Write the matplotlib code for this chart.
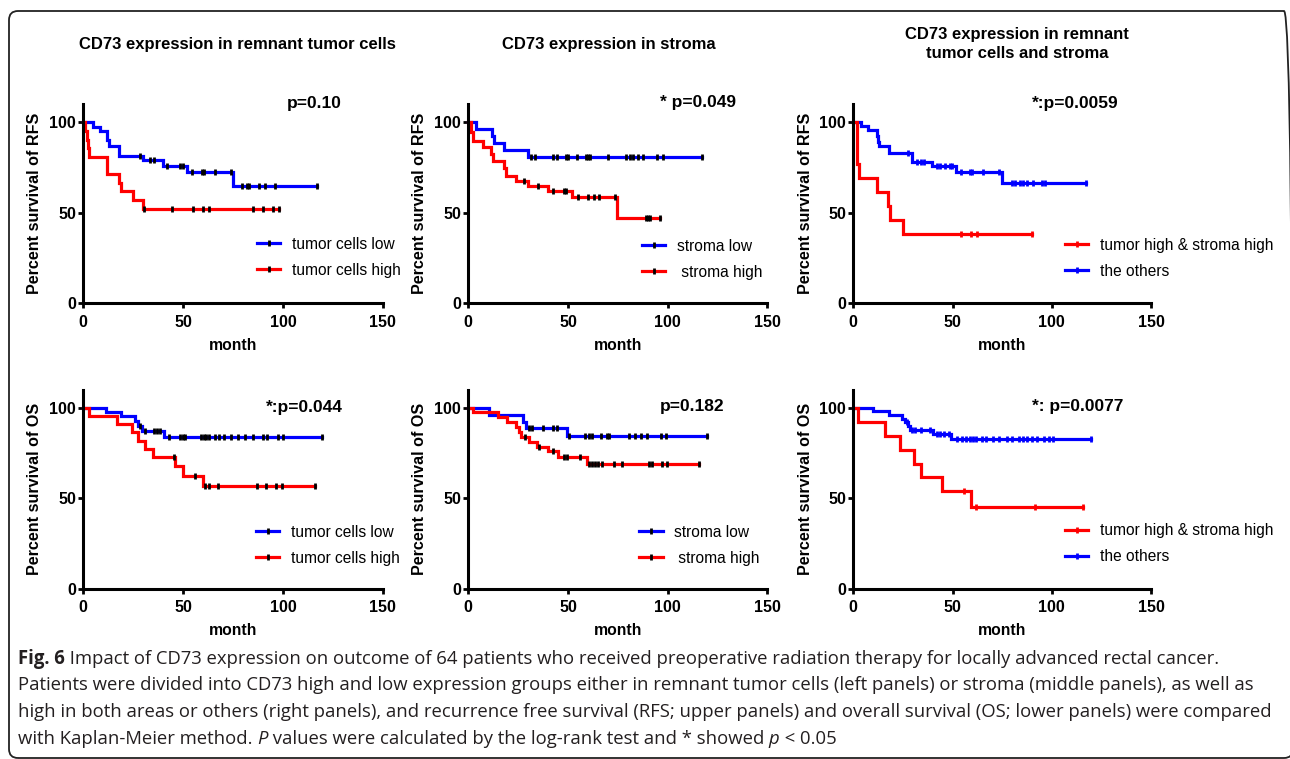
import numpy as np
import matplotlib
matplotlib.use('Agg')
import matplotlib.pyplot as plt
from matplotlib.lines import Line2D
from matplotlib.patches import FancyBboxPatch
from matplotlib.transforms import IdentityTransform

plt.rcParams['font.family'] = ['Liberation Sans', 'DejaVu Sans']

BLUE = '#0000ff'
RED = '#ff0000'

# ---- data (month, percent survival) ----
# RFS, tumor cells
rfs_tc_low_t = [0, 5, 8.5, 12, 12.8, 18, 30, 40, 52, 75]
rfs_tc_low_s = [100, 97.6, 95.2, 90.5, 87.1, 81.6, 79.2, 76.1, 72.7, 64.7]
rfs_tc_low_cens = [28.5, 33.5, 35.5, 42, 48.5, 50, 54.5, 59.5, 60.5, 66, 74, 79.5, 82, 83, 88, 91, 96, 117]
rfs_tc_high_t = [0, 1, 2, 2.5, 3, 12, 18, 19, 25, 30]
rfs_tc_high_s = [100, 95.2, 90.5, 85.7, 81.0, 71.4, 66.7, 61.9, 57.1, 52.4]
rfs_tc_high_cens = [30.5, 44.5, 55, 60, 63, 85, 90, 95, 98]

# RFS, stroma
rfs_st_low_t = [0, 4, 12, 13, 18, 30]
rfs_st_low_s = [100, 96.2, 92.3, 88.5, 84.6, 80.8]
rfs_st_low_cens = [31.5, 33.5, 42.5, 44.5, 49, 50, 54.5, 59, 60, 61, 70, 79, 81, 82.5, 85, 87.5, 94.5, 97.5, 117]
rfs_st_high_t = [0, 1.5, 2.5, 7.5, 11.5, 12.5, 18, 19, 24, 30, 40, 52, 74.5]
rfs_st_high_s = [100, 94.7, 89.5, 86.6, 82.5, 78.6, 75.0, 70.3, 67.8, 64.8, 61.8, 58.7, 47.2]
rfs_st_high_cens = [28, 35, 42.5, 48, 49, 55, 60, 63, 65.5, 73.5, 89, 90, 91, 96]

# RFS, tumor high & stroma high vs others
rfs_bo_oth_t = [0, 4, 7.5, 11.8, 12.3, 13, 18, 29.5, 39.5, 51.5, 74.7]
rfs_bo_oth_s = [100, 98.2, 95.8, 92.6, 89.2, 86.9, 82.9, 78.3, 75.9, 72.7, 66.7]
rfs_bo_oth_cens = [27.5, 32, 34, 35.5, 42, 43.5, 46, 48.5, 49.5, 54.5, 59, 60, 65.5, 73.5,
                   80, 81.5, 84, 85.5, 87.5, 90.5, 95, 96.5, 117]
rfs_bo_hh_t = [0, 1.7, 2, 2.7, 12, 17.3, 18.5, 25]
rfs_bo_hh_s = [100, 84.6, 76.9, 69.2, 61.5, 53.8, 46.2, 38.5]
rfs_bo_hh_cens = [54.5, 59.5, 62.5, 90]

# OS, tumor cells
os_tc_low_t = [0, 11.3, 19, 26, 27.5, 29.5, 40.6]
os_tc_low_s = [100, 97.6, 95.2, 92.6, 89.9, 87.1, 84.1]
os_tc_low_cens = [28.5, 31, 35.5, 37, 38.5, 43, 48.5, 50, 51, 59, 60.5, 61.5, 63, 66, 68, 70.5,
                  74, 77.5, 81, 85, 90, 92, 97.5, 100, 119.5]
os_tc_high_t = [0, 3, 16.7, 24.2, 27.6, 30.9, 35.1, 45.8, 50.1, 60.1]
os_tc_high_s = [100, 95.5, 90.9, 86.4, 81.8, 77.3, 72.7, 67.6, 62.5, 56.8]
os_tc_high_cens = [45.2, 56, 61, 63, 67.5, 87, 91.5, 96.5, 99.5, 116]

# OS, stroma
os_st_low_t = [0, 10.4, 27.6, 29, 49.4]
os_st_low_s = [100, 96.2, 92.3, 88.8, 84.6]
os_st_low_cens = [30.5, 32, 37.5, 42.5, 44.5, 50.5, 58.5, 60.5, 62, 66.5, 69.5, 70.5, 80.5, 83.5,
                  86.5, 89.5, 96.5, 99, 119.8]
os_st_high_t = [0, 2.5, 15, 19.3, 24, 25.2, 26.5, 30.6, 34.2, 40.2, 44.8, 59.4]
os_st_high_s = [100, 97.4, 94.7, 92.1, 89.4, 86.6, 83.9, 81.1, 78.4, 75.9, 73.0, 69.1]
os_st_high_cens = [28.5, 35.5, 42.5, 48, 49.5, 56, 60.5, 62, 63.5, 65, 67, 73, 77, 90.5, 92, 97,
                   99.5, 115.5]

# OS, tumor high & stroma high vs others
os_bo_oth_t = [0, 10.1, 18.1, 24.4, 26, 27.8, 28.8, 40, 49.1]
os_bo_oth_s = [100, 98.0, 95.9, 94.0, 92.3, 90.0, 87.6, 85.4, 82.7]
os_bo_oth_cens = [27, 29.5, 31, 34, 38.5, 42, 43.5, 45.5, 48, 52, 55, 57, 59, 60.5, 62, 65, 67,
                  70.5, 73.5, 77.5, 80, 83.5, 85.5, 87.5, 90, 92.5, 96, 98.5, 100.5, 120]
os_bo_hh_t = [0, 2.2, 16, 23.5, 30.6, 34.1, 44.8, 59.4]
os_bo_hh_s = [100, 92.3, 84.6, 76.9, 69.2, 61.5, 53.8, 44.9]
os_bo_hh_cens = [56, 62, 91.5, 115.5]

col_titles = ['CD73 expression in remnant tumor cells',
              'CD73 expression in stroma',
              'CD73 expression in remnant\ntumor cells and stroma']
p_texts = [['p=0.10', '* p=0.049', '*:p=0.0059'],
           ['*:p=0.044', 'p=0.182', '*: p=0.0077']]
row_ylabels = ['Percent survival of RFS', 'Percent survival of OS']
x_ticks = [0, 50, 100, 150]
y_ticks = [0, 50, 100]

caption_lines = [
    [('Fig. 6', 'bold', 'normal'),
     (' Impact of CD73 expression on outcome of 64 patients who received preoperative radiation therapy for locally advanced rectal cancer.', 'normal', 'normal')],
    [('Patients were divided into CD73 high and low expression groups either in remnant tumor cells (left panels) or stroma (middle panels), as well as', 'normal', 'normal')],
    [('high in both areas or others (right panels), and recurrence free survival (RFS; upper panels) and overall survival (OS; lower panels) were compared', 'normal', 'normal')],
    [('with Kaplan-Meier method. ', 'normal', 'normal'), ('P', 'normal', 'italic'),
     (' values were calculated by the log-rank test and * showed ', 'normal', 'normal'),
     ('p', 'normal', 'italic'), (' < 0.05', 'normal', 'normal')],
]

W, H = 1290, 759
fig = plt.figure(figsize=(W / 100, H / 100), dpi=100)


def km(ax, t, s, cens, color, ccol):
    end = max(cens)
    xs = list(t) + [end]
    ys = list(s) + [s[-1]]
    ax.plot(xs, ys, drawstyle='steps-post', color=color, lw=2.3, clip_on=False,
            solid_joinstyle='miter')
    idx = np.searchsorted(t, cens, side='right') - 1
    lv = np.array(s)[idx]
    ax.plot(cens, lv, ls='none', marker='|', color=ccol, ms=5, mew=2, clip_on=False)
    return Line2D([], [], color=color, lw=2.3, marker='|', mec=ccol, ms=5, mew=2)


# panel geometry in pixels
lefts = [83.3, 468.3, 853.3]
widths = [299.4, 299.2, 297.7]
bottoms = [303.3, 588.7]
hgt = 199

panels = [
    [(rfs_tc_low_t, rfs_tc_low_s, rfs_tc_low_cens, rfs_tc_high_t, rfs_tc_high_s, rfs_tc_high_cens,
      ['tumor cells low', 'tumor cells high'], False),
     (rfs_st_low_t, rfs_st_low_s, rfs_st_low_cens, rfs_st_high_t, rfs_st_high_s, rfs_st_high_cens,
      ['stroma low', ' stroma high'], False),
     (rfs_bo_oth_t, rfs_bo_oth_s, rfs_bo_oth_cens, rfs_bo_hh_t, rfs_bo_hh_s, rfs_bo_hh_cens,
      ['the others', 'tumor high & stroma high'], True)],
    [(os_tc_low_t, os_tc_low_s, os_tc_low_cens, os_tc_high_t, os_tc_high_s, os_tc_high_cens,
      ['tumor cells low', 'tumor cells high'], False),
     (os_st_low_t, os_st_low_s, os_st_low_cens, os_st_high_t, os_st_high_s, os_st_high_cens,
      ['stroma low', ' stroma high'], False),
     (os_bo_oth_t, os_bo_oth_s, os_bo_oth_cens, os_bo_hh_t, os_bo_hh_s, os_bo_hh_cens,
      ['the others', 'tumor high & stroma high'], True)],
]

p_pos = [[(0.772, 1.005), (0.769, 1.008), (0.746, 1.005)],
         [(0.738, 0.912), (0.747, 0.917), (0.754, 0.917)]]
leg_pos = [[(0.58, 0.232), (0.58, 0.221), (0.711, 0.226)],
           [(0.577, 0.219), (0.572, 0.218), (0.711, 0.227)]]

for r in range(2):
    for c in range(3):
        lt, ls_, lc, ht, hs, hc, labs, same_col = panels[r][c]
        ax = fig.add_axes([lefts[c] / W, 1 - bottoms[r] / H, widths[c] / W, hgt / H])
        h_low = km(ax, lt, ls_, lc, BLUE, BLUE if same_col else 'k')
        h_high = km(ax, ht, hs, hc, RED, RED if same_col else 'k')
        ax.set_xlim(0, 150)
        ax.set_ylim(0, 110)
        ax.set_xticks(x_ticks)
        ax.set_yticks(y_ticks)
        for sp in ['top', 'right']:
            ax.spines[sp].set_visible(False)
        for sp in ['left', 'bottom']:
            ax.spines[sp].set_linewidth(2.2)
        ax.tick_params(axis='both', length=3.8, width=2, labelsize=11.5)
        ax.tick_params(axis='y', pad=1.5)
        ax.tick_params(axis='x', pad=4.5)
        for lab in ax.get_xticklabels() + ax.get_yticklabels():
            lab.set_fontweight('bold')
        ax.set_xlabel('month', fontsize=11.3, fontweight='bold')
        ax.xaxis.set_label_coords(0.5, -0.172)
        ax.set_ylabel(row_ylabels[r], fontsize=11.6, fontweight='bold')
        ax.yaxis.set_label_coords(-0.137, 0.5)
        ax.text(p_pos[r][c][0], p_pos[r][c][1], p_texts[r][c], transform=ax.transAxes,
                ha='center', va='center', fontsize=12.5, fontweight='bold')
        if same_col:
            hs_, lb = [h_high, h_low], [labs[1], labs[0]]
        else:
            hs_, lb = [h_low, h_high], labs
        ax.legend(hs_, lb, loc='center left', bbox_to_anchor=leg_pos[r][c], frameon=False,
                  fontsize=11.2, handlelength=1.5, handletextpad=0.75, labelspacing=0.7,
                  borderpad=0, borderaxespad=0, numpoints=1)

# column titles
fig.text(237 / W, 1 - 44 / H, col_titles[0], ha='center', va='center', fontsize=12, fontweight='bold')
fig.text(608.5 / W, 1 - 44 / H, col_titles[1], ha='center', va='center', fontsize=12, fontweight='bold')
fig.text(1017 / W, 1 - 44 / H, col_titles[2], ha='center', va='center', fontsize=12,
         fontweight='bold', linespacing=1.3)

# frame around figure + caption (right edge runs just off the canvas)
frame = FancyBboxPatch((9, 1), 1284, 747, boxstyle='round,pad=0,rounding_size=9',
                       transform=IdentityTransform(), fill=False, lw=1.3, ec='#222222')
fig.add_artist(frame)

renderer = fig.canvas.get_renderer()
cap_y = [659, 685.5, 712, 738.5]
for line, yy in zip(caption_lines, cap_y):
    x = 18
    for txt, wt, st in line:
        t = fig.text(x, H - yy, txt, transform=IdentityTransform(), ha='left', va='center',
                     fontsize=13.35, fontweight=wt, fontstyle=st, family=['Open Sans', 'DejaVu Sans'],
                     color='#231f20')
        bb = t.get_window_extent(renderer=renderer)
        x = bb.x1

fig.savefig('out.png', dpi=100)
